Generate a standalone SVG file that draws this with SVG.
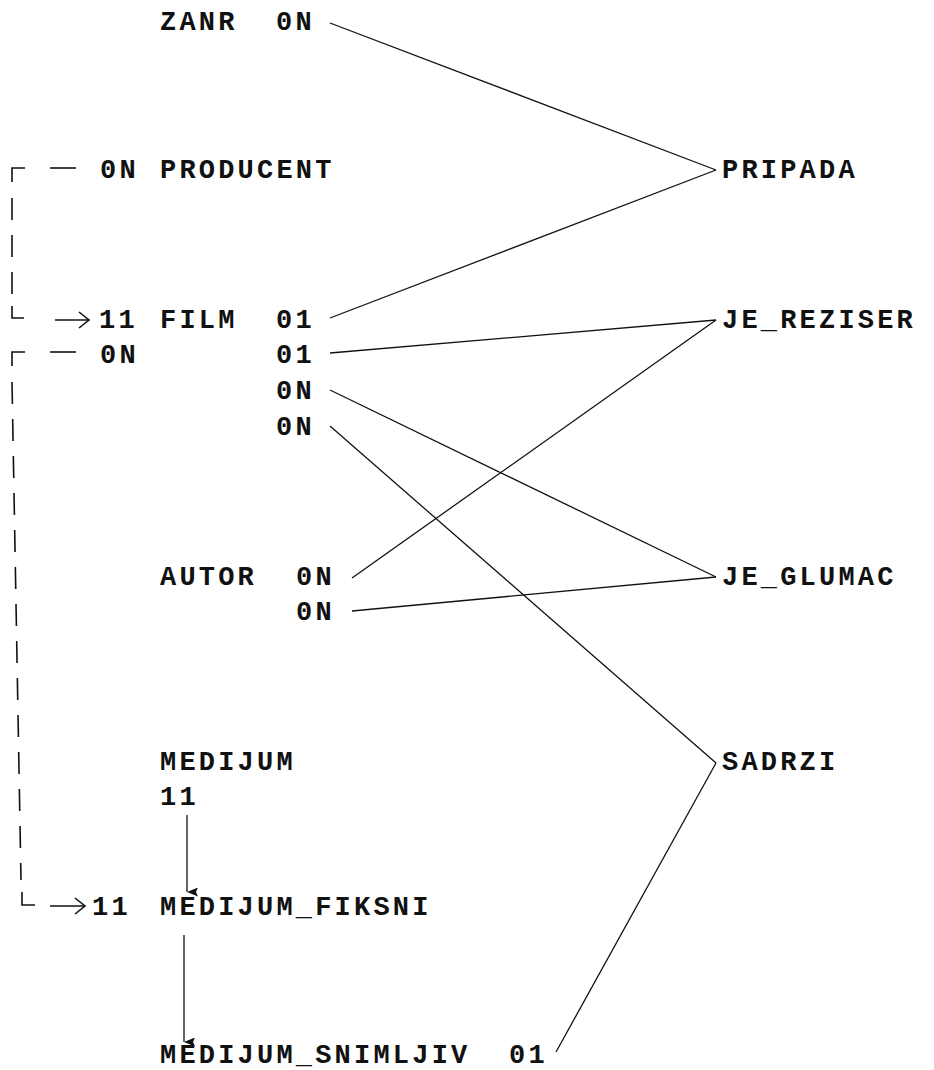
<svg xmlns="http://www.w3.org/2000/svg" width="934" height="1070" viewBox="0 0 934 1070">
<style>
text{font-family:"Liberation Mono","DejaVu Sans Mono",monospace;font-weight:bold;font-size:27px;letter-spacing:3.2px;fill:#111}
.ln{stroke:#111;stroke-width:1.3;fill:none}
.dash{stroke:#111;stroke-width:1.6;fill:none;stroke-dasharray:22 15}
.solid{stroke:#111;stroke-width:1.6;fill:none}
</style>
<defs>
<marker id="ah" viewBox="0 0 9 11" refX="4.5" refY="11" markerWidth="9" markerHeight="11" markerUnits="userSpaceOnUse" orient="auto">
<path d="M0,0 L4.5,11 L9,0 L4.5,2 Z" fill="#111"/>
</marker>
</defs>
<rect width="934" height="1070" fill="#fff"/>

<g id="connectors">
<line class="ln" x1="330" y1="23" x2="716" y2="170"/>
<line class="ln" x1="330" y1="318" x2="716" y2="170"/>
<line class="ln" x1="330" y1="353" x2="716" y2="320"/>
<line class="ln" x1="352" y1="578" x2="716" y2="320"/>
<line class="ln" x1="330" y1="390" x2="716" y2="577"/>
<line class="ln" x1="352" y1="611" x2="716" y2="577"/>
<line class="ln" x1="330" y1="426" x2="716" y2="763"/>
<line class="ln" x1="556" y1="1052" x2="716" y2="763"/>
<line class="ln" x1="187" y1="815" x2="187" y2="892" marker-end="url(#ah)"/>
<line class="ln" x1="184" y1="935" x2="184" y2="1042" marker-end="url(#ah)"/>
<!-- PRODUCENT to FILM dashed link -->
<path class="solid" d="M25 168 H12 V182"/>
<line class="solid" x1="50" y1="168" x2="76" y2="168"/>
<line class="dash" x1="12" y1="198" x2="12" y2="300"/>
<path class="solid" d="M12 306 V318 H24"/>
<line class="solid" x1="55" y1="320" x2="88" y2="320"/>
<path class="solid" d="M79 312 L89 320 L79 328"/>
<!-- FILM to MEDIJUM_FIKSNI dashed link -->
<path class="solid" d="M25 352 H12 V366"/>
<line class="solid" x1="50" y1="352" x2="76" y2="352"/>
<line class="dash" x1="12" y1="382" x2="21" y2="880"/>
<path class="solid" d="M22 892 V905 H35"/>
<line class="solid" x1="50" y1="906" x2="84" y2="906"/>
<path class="solid" d="M75 898 L85 906 L75 914"/>
</g>

<g id="ZANR">
<text x="160" y="30">ZANR</text>
<text x="276" y="30">0N</text>
</g>
<g id="PRODUCENT">
<text x="100" y="178">0N</text>
<text x="160" y="178">PRODUCENT</text>
</g>
<g id="FILM">
<text x="99" y="328">11</text>
<text x="160" y="328">FILM</text>
<text x="276" y="328">01</text>
<text x="100" y="363">0N</text>
<text x="276" y="363">01</text>
<text x="276" y="399">0N</text>
<text x="276" y="435">0N</text>
</g>
<g id="AUTOR">
<text x="160" y="585">AUTOR</text>
<text x="296" y="585">0N</text>
<text x="296" y="620">0N</text>
</g>
<g id="MEDIJUM">
<text x="160" y="770">MEDIJUM</text>
<text x="160" y="805">11</text>
</g>
<g id="MEDIJUM_FIKSNI">
<text x="92" y="915">11</text>
<text x="160" y="915">MEDIJUM_FIKSNI</text>
</g>
<g id="MEDIJUM_SNIMLJIV">
<text x="160" y="1063">MEDIJUM_SNIMLJIV</text>
<text x="509" y="1063">01</text>
</g>
<g id="PRIPADA"><text x="722" y="178">PRIPADA</text></g>
<g id="JE_REZISER"><text x="722" y="328">JE_REZISER</text></g>
<g id="JE_GLUMAC"><text x="722" y="585">JE_GLUMAC</text></g>
<g id="SADRZI"><text x="722" y="770">SADRZI</text></g>
</svg>
